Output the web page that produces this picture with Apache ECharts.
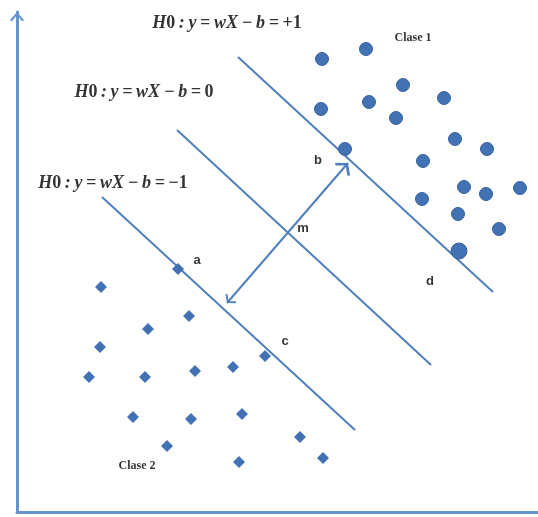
<!DOCTYPE html>
<html>
<head>
<meta charset="utf-8">
<script src="https://cdn.jsdelivr.net/npm/echarts@6/dist/echarts.min.js"></script>
<style>
  html, body { margin: 0; padding: 0; background: #fff; }
  #chart { width: 538px; height: 517px; }
</style>
</head>
<body>
<div id="chart"></div>
<script>
// Clase 1 (circles) and Clase 2 (diamonds), chart units
var clase1 = [
  [305, 453], [349, 463], [386, 427], [352, 410], [304, 403], [427, 414],
  [379, 394], [438, 373], [470, 363], [328, 363], [406, 351], [447, 325],
  [469, 318], [503, 324], [405, 313], [441, 298], [482, 283], [442, 261]
];
var clase1Big = [442, 261];
var clase2 = [
  [161, 243], [84, 225], [172, 196], [131, 183], [83, 165], [248, 156],
  [216, 145], [72, 135], [128, 135], [178, 141], [116, 95], [174, 93],
  [225, 98], [150, 66], [222, 50], [283, 75], [306, 54]
];

// hyperplanes: start / end points
var planePlus = [[221, 455], [476, 220]];
var planeZero = [[160, 382], [414, 147]];
var planeMinus = [[85, 315], [338, 82]];
var marginArrow = [[210, 209], [331, 349]];

// text annotations (rich text: i = italic, n = upright)
var planeLabels = [
  { name: '{i|H}{n|0}{i|\u2009:\u2009y\u2009=\u2009wX\u2009\u2212\u2009b\u2009=\u2009}{n|+1}', value: [210, 489] },
  { name: '{i|H}{n|0}{i|\u2009:\u2009y\u2009=\u2009wX\u2009\u2212\u2009b\u2009=\u2009}{n|0}', value: [127, 420] },
  { name: '{i|H}{n|0}{i|\u2009:\u2009y\u2009=\u2009wX\u2009\u2212\u2009b\u2009=\u2009}{n|\u22121}', value: [96, 329] }
];
var classLabels = [
  { name: 'Clase 1', value: [396, 474] },
  { name: 'Clase 2', value: [120, 46] }
];
var pointLabels = [
  { name: 'b', value: [301, 352] },
  { name: 'm', value: [286, 284] },
  { name: 'a', value: [180, 252] },
  { name: 'c', value: [268, 171] },
  { name: 'd', value: [413, 231] }
];

var chart = echarts.init(document.getElementById('chart'));

// open chevron, tip at the centre of its box
var chevron = 'path://M7,10L14,18L12.4,19.6L7,13.3L1.6,19.6L0,18Z M7,0.4L7.01,0.4';

var lineColor = '#4f7fbd',
  dotColor = '#4272b3',
  axisColor = '#6593cc';

function planeSeries(pts) {
  return {
    type: 'line',
    data: pts,
    showSymbol: false,
    silent: true,
    lineStyle: { color: lineColor, width: 2 },
    z: 2
  };
}

function textSeries(data, font) {
  return {
    type: 'scatter',
    data: data,
    symbolSize: 0,
    silent: true,
    clip: false,
    label: Object.assign({
      show: true,
      position: 'inside',
      formatter: '{b}',
      color: '#000'
    }, font),
    z: 5
  };
}

var serif = 'Liberation Serif';

var option = {
  animation: false,
  grid: { left: 17, right: 0, top: 12, bottom: 5 },
  xAxis: {
    type: 'value',
    min: 0,
    max: 521,
    axisLine: {
      show: true,
      onZero: false,
      lineStyle: { color: axisColor, width: 3 }
    },
    axisTick: { show: false },
    axisLabel: { show: false },
    splitLine: { show: false }
  },
  yAxis: {
    type: 'value',
    min: 0,
    max: 500,
    axisLine: {
      show: true,
      onZero: false,
      symbol: ['none', chevron],
      symbolSize: [14, 20],
      lineStyle: { color: axisColor, width: 3 }
    },
    axisTick: { show: false },
    axisLabel: { show: false },
    splitLine: { show: false }
  },
  series: [
    planeSeries(planePlus),
    planeSeries(planeZero),
    planeSeries(planeMinus),
    {
      type: 'lines',
      coordinateSystem: 'cartesian2d',
      silent: true,
      symbol: [chevron, chevron],
      symbolSize: [14, 20],
      lineStyle: { color: lineColor, width: 2, opacity: 1 },
      data: [{ coords: marginArrow }],
      z: 3
    },
    {
      type: 'scatter',
      data: clase1,
      symbol: 'circle',
      symbolSize: function (v) {
        return (v[0] === clase1Big[0] && v[1] === clase1Big[1]) ? 16 : 13;
      },
      itemStyle: { color: dotColor, opacity: 1, borderColor: '#36619e', borderWidth: 1 },
      z: 4
    },
    {
      type: 'scatter',
      data: clase2,
      symbol: 'diamond',
      symbolSize: 12,
      itemStyle: { color: dotColor, opacity: 1 },
      z: 4
    },
    textSeries(planeLabels, {
      rich: {
        i: { fontFamily: serif, fontStyle: 'italic', fontWeight: 'bold', fontSize: 18, color: '#000' },
        n: { fontFamily: serif, fontWeight: 'bold', fontSize: 18, color: '#000' }
      }
    }),
    textSeries(classLabels, {
      fontFamily: serif,
      fontWeight: 'bold',
      fontSize: 12
    }),
    textSeries(pointLabels, {
      fontFamily: 'Liberation Sans',
      fontWeight: 'bold',
      fontSize: 13
    })
  ]
};

chart.setOption(option);
</script>
</body>
</html>
